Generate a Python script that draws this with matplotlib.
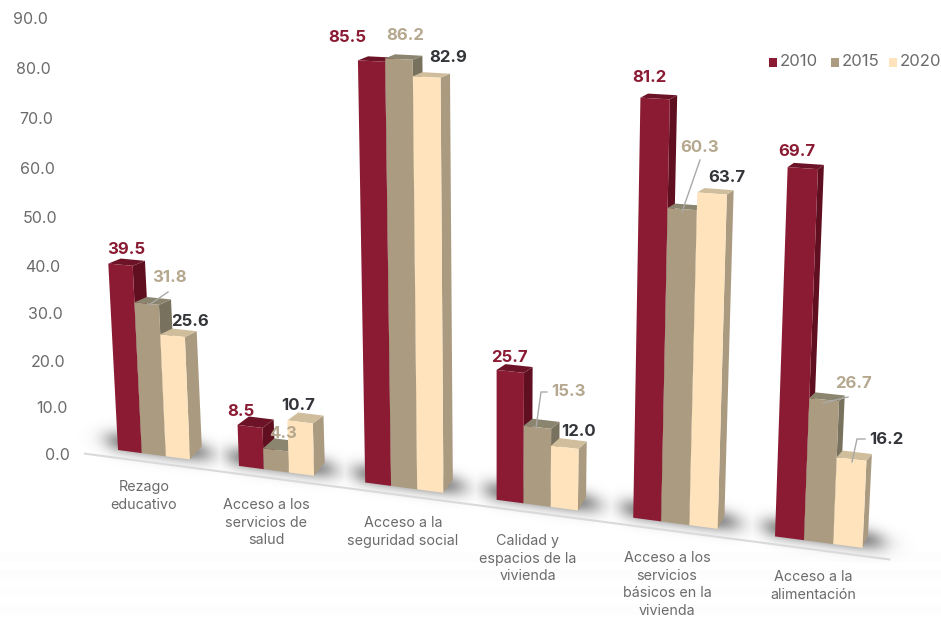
import matplotlib
matplotlib.use("Agg")
import matplotlib.pyplot as plt
from matplotlib.patches import Polygon, Rectangle
import numpy as np

plt.rcParams["font.family"] = ["Inter", "DejaVu Sans"]

# data
categories = ["Rezago\neducativo", "Acceso a los\nservicios de\nsalud", "Acceso a la\nseguridad social",
              "Calidad y\nespacios de la\nvivienda", "Acceso a los\nservicios\nbásicos en la\nvivienda",
              "Acceso a la\nalimentación"]
years = ["2010", "2015", "2020"]
values_2010 = [39.5, 8.5, 85.5, 25.7, 81.2, 69.7]
values_2015 = [31.8, 4.3, 86.2, 15.3, 60.3, 26.7]
values_2020 = [25.6, 10.7, 82.9, 12.0, 63.7, 16.2]
y_ticks = [0, 10, 20, 30, 40, 50, 60, 70, 80, 90]

# front, side, top
front_colors = ["#8a1b33", "#ab9b80", "#fee3bc"]
side_colors = ["#5f0f20", "#77715d", "#aa9a80"]
top_colors = ["#6d1327", "#8b856f", "#cfbd9b"]
label_colors = ["#8a1b33", "#b5a88f", "#33353a"]
BAR_W = 0.2


# the chart is a perspective picture, so this is the "scale": category u, value v, depth w -> pixels
def proj(u, v, w=0.0):
    bx = 118 + 118.4 * u + 2.6 * u * u
    by = 450 + 0.1315 * (bx - 118)
    scale = 4.72 + 0.00088 * (bx - 118)
    lean = 0.00065 * (bx - 496)
    dx = 12.5 - 0.0095 * (bx - 118)
    dy = 3 + 10 / (1 + v / 10)
    return bx + lean * v + dx * w, by - scale * v - dy * w


def draw_bar(ax, u, v, i):
    a = proj(u, 0)
    b = proj(u + BAR_W, 0)
    c = proj(u + BAR_W, v)
    d = proj(u, v)
    b2 = proj(u + BAR_W, 0, 1)
    c2 = proj(u + BAR_W, v, 1)
    d2 = proj(u, v, 1)
    ax.add_patch(Polygon([b, b2, c2, c], fc=side_colors[i], ec="none", zorder=3))
    ax.add_patch(Polygon([d, c, c2, d2], fc=top_colors[i], ec="none", zorder=3))
    ax.add_patch(Polygon([a, b, c, d], fc=front_colors[i], ec="none", zorder=3))


def shadow_layer(n_groups):
    # soft grey blobs on the floor behind every group
    yy, xx = np.mgrid[0:618, 0:941]
    alpha = np.zeros(xx.shape)
    for g in range(n_groups):
        x0, y0 = proj(g, 0)
        x1, y1 = proj(g + 3 * BAR_W, 0)
        t = yy - (y0 + (xx - x0) * (y1 - y0) / (x1 - x0))
        sx = 1 / (1 + np.exp(-(xx - (x0 - 10)) / 6)) * 1 / (1 + np.exp((xx - (x1 + 18)) / 7))
        st = np.exp(-((t + 9) / 11) ** 2)
        alpha = np.maximum(alpha, 0.78 * sx * st)
    img = np.zeros(xx.shape + (4,))
    img[..., :3] = 0.38
    img[..., 3] = alpha
    return img


fig = plt.figure(figsize=(9.41, 6.18), dpi=100)
ax = fig.add_axes([0, 0, 1, 1])
ax.set_xlim(0, 941)
ax.set_ylim(618, 0)
ax.axis("off")

# very faint ghost rows at the bottom of the source image
for y in [557, 575, 592, 610]:
    ax.axhspan(y - 5, y + 5, color="#fdfdfd", lw=0, zorder=0)

# floor shadows and axis line
ax.imshow(shadow_layer(len(categories)), extent=(0, 941, 618, 0), zorder=1, aspect="auto")
x0, y0 = proj(-0.28, 0)
x1, y1 = proj(5.78, 0)
ax.plot([x0, x1], [y0 + 8, y1 + 8], color="#d9dadc", lw=1.5, zorder=2)

# y axis labels follow the same perspective
for tick in y_ticks:
    y = 455 - 4.584 * tick - 0.00289 * tick * tick
    x = 70 - 0.245 * tick
    ax.text(x, y, f"{tick:.1f}", ha="right", va="center", fontsize=11.5, color="#6b6b6b")

# bars
series = [values_2010, values_2015, values_2020]
for g in range(len(categories)):
    for i in range(3):
        draw_bar(ax, g + i * BAR_W, series[i][g], i)

# category labels
cat_x = [144, 266, 403, 528, 667, 813]
cat_y = [480, 498, 516, 534, 551, 570]
for name, x, y in zip(categories, cat_x, cat_y):
    ax.text(x, y, name, ha="center", va="top", fontsize=10.3, color="#6b6b6b", linespacing=1.33)

# value labels
label_pos = [
    [(126, 249), (169, 278), (190, 321)],
    [(241, 411), (283, 434), (298, 405)],
    [(347, 37), (405, 36), (448, 57)],
    [(509, 357), (568, 392), (579, 432)],
    [(649, 78), (700, 147), (727, 177)],
    [(797, 152), (854, 384), (886, 440)],
]
for g in range(len(categories)):
    for i in range(3):
        x, y = label_pos[g][i]
        ax.text(x, y, f"{series[i][g]:.1f}", ha="center", va="center", fontsize=12,
                fontweight="bold", color=label_colors[i], zorder=5)

# leader lines
leaders = [
    [(168, 292), (149, 305)],
    [(547, 392), (541, 392), (536, 428)],
    [(700, 160), (682, 212)],
    [(848, 397), (823, 403)],
    [(865, 439), (857, 439), (852, 462)],
]
for pts in leaders:
    ax.plot([p[0] for p in pts], [p[1] for p in pts], color="#a9a9a6", lw=1, zorder=4)

# legend
legend_x = [769, 831, 889]
for year, x, color in zip(years, legend_x, front_colors):
    ax.add_patch(Rectangle((x, 58), 8, 9, fc=color, ec="none", zorder=5))
    ax.text(x + 11, 62, year, ha="left", va="center", fontsize=12, color="#6b6b6b")

fig.savefig("out.png", dpi=100)
